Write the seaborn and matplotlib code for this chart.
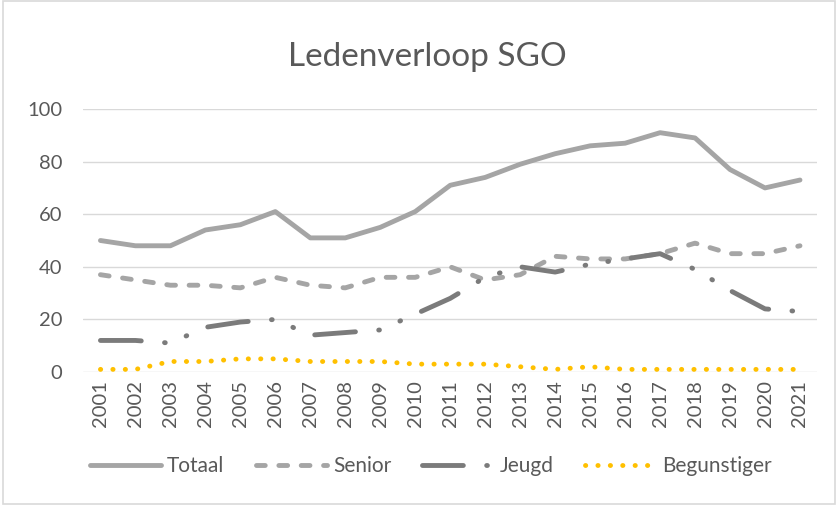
import matplotlib
matplotlib.use('Agg')
import matplotlib.pyplot as plt
import seaborn as sns
from matplotlib.patches import Rectangle

years = [str(y) for y in range(2001, 2022)]
totaal = [50, 48, 48, 54, 56, 61, 51, 51, 55, 61, 71, 74, 79, 83, 86, 87, 91, 89, 77, 70, 73]
senior = [37, 35, 33, 33, 32, 36, 33, 32, 36, 36, 40, 35, 37, 44, 43, 43, 45, 49, 45, 45, 48]
jeugd = [12, 12, 11, 17, 19, 20, 14, 15, 16, 22, 28, 36, 40, 38, 41, 43, 45, 39, 31, 24, 23]
begunstiger = [1, 1, 4, 4, 5, 5, 4, 4, 4, 3, 3, 3, 2, 1, 2, 1, 1, 1, 1, 1, 1]

sns.set_style('white')
plt.rcParams['font.family'] = ['Lato', 'DejaVu Sans']
text_col = '#595959'

fig = plt.figure(figsize=(8.38, 5.08), dpi=100)
ax = fig.add_axes([0.099, 0.2677, 0.8765, 0.5177])

lw = 3.5
common = dict(ax=ax, lw=lw, sort=False, dash_capstyle='round', solid_capstyle='round')

sns.lineplot(x=years, y=totaal, color='#A5A5A5', label='Totaal', **common)
sns.lineplot(x=years, y=senior, color='#A5A5A5', label='Senior',
             linestyle=(0, (1.8, 2.8)), **common)
sns.lineplot(x=years, y=jeugd, color='#7B7B7B', label='Jeugd',
             linestyle=(0, (8.4, 4.8, 0.15, 4.6, 0.15, 4.7)), **common)
sns.lineplot(x=years, y=begunstiger, color='#FFC000', label='Begunstiger',
             linestyle=(0, (0.05, 2.5)), **common)

ax.set_xlim(-0.5, len(years) - 0.5)
ax.set_ylim(0, 100)
ax.set_yticks(range(0, 101, 20))
ax.yaxis.grid(True, color='#D9D9D9', lw=1.0)
ax.set_axisbelow(True)
for s in ax.spines.values():
    s.set_visible(False)
ax.tick_params(axis='y', length=0, pad=15, labelsize=14.5, labelcolor=text_col)
ax.tick_params(axis='x', length=0, pad=6, labelsize=14.5, labelcolor=text_col,
               labelrotation=90)
ax.set_xlabel('')
ax.set_ylabel('')

fig.text(0.51, 1 - 57 / 508, 'Ledenverloop SGO', ha='center', va='center',
         fontsize=24, color=text_col)

ax.get_legend().remove()
handles, labels = ax.get_legend_handles_labels()
fig.legend(handles, labels, loc='center', bbox_to_anchor=(0.514, 1 - 466 / 508),
           ncol=4, frameon=False, fontsize=15, labelcolor=text_col,
           handlelength=3.4, handletextpad=0.3, columnspacing=1.5)

fig.patches.append(Rectangle((0.003, 0.008), 0.994, 0.99, transform=fig.transFigure,
                             fill=False, edgecolor='#D9D9D9', lw=1.2))

fig.savefig('out.png', dpi=100)
